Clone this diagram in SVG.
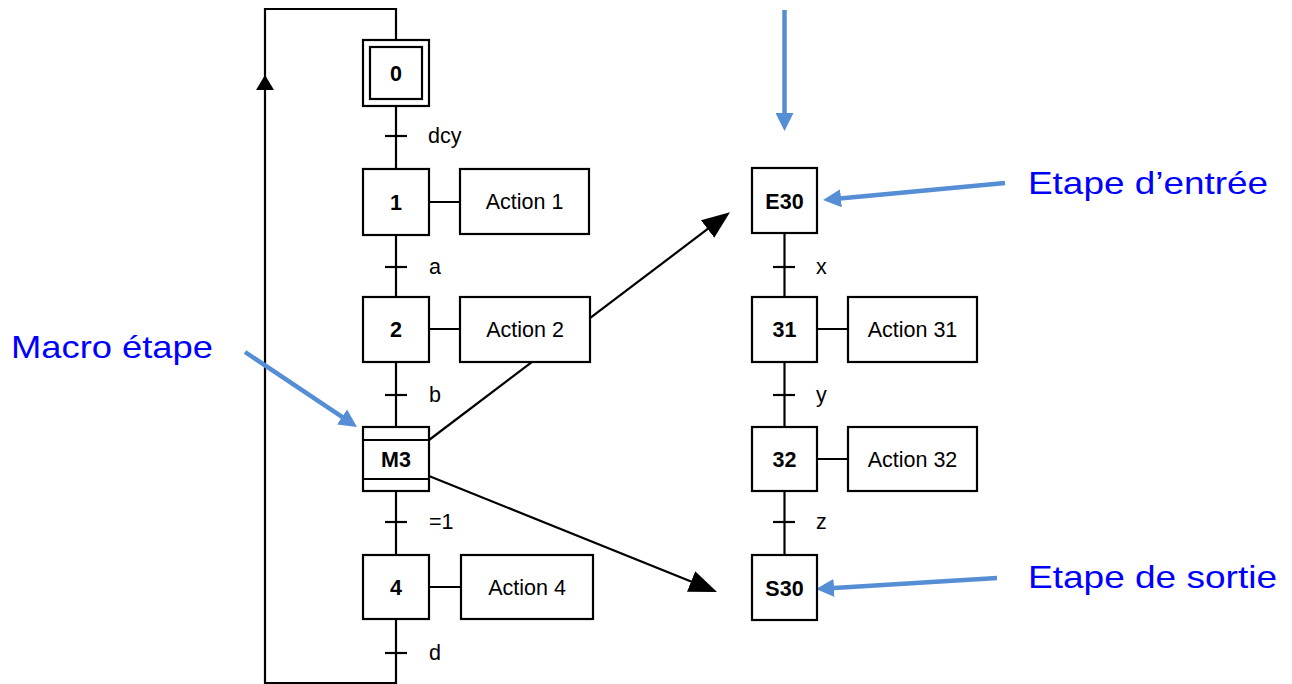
<svg xmlns="http://www.w3.org/2000/svg" width="1292" height="684" viewBox="0 0 1292 684">
<style>
.box{fill:#fff;stroke:#000;stroke-width:2.2}
.ln{fill:none;stroke:#000;stroke-width:2.2}
.tk{stroke:#000;stroke-width:2.2}
.blue{fill:none;stroke:#558ed5;stroke-width:4.5}
.step{font-family:"Liberation Sans",Arial,sans-serif;font-size:21.5px;font-weight:bold;text-anchor:middle;fill:#000}
.act{font-family:"Liberation Sans",Arial,sans-serif;font-size:21.5px;text-anchor:middle;fill:#000}
.tr{font-family:"Liberation Sans",Arial,sans-serif;font-size:21.5px;fill:#000}
.note{font-family:"Liberation Sans",Arial,sans-serif;font-size:32px;fill:#0000ff}
</style>
<defs>
<marker id="blk" markerUnits="userSpaceOnUse" markerWidth="28" markerHeight="22" refX="8" refY="11" orient="auto"><path d="M0,0 L28,11 L0,22 z" fill="#000"/></marker>
<marker id="loop" markerUnits="userSpaceOnUse" markerWidth="15" markerHeight="18" refX="8" refY="9" orient="auto"><path d="M0,0 L15,9 L0,18 z" fill="#000"/></marker>
<marker id="bl" markerUnits="userSpaceOnUse" markerWidth="18" markerHeight="18" refX="4" refY="9" orient="auto"><path d="M0,0 L18,9 L0,18 z" fill="#558ed5"/></marker>
</defs>
<g id="connectors">
<path class="ln" d="M396,106 V169 M396,235 V297 M396,362 V427 M396,491 V555"/>
<path class="ln" d="M396,619 V683 H265 V82" marker-end="url(#loop)"/>
<path class="ln" d="M265,82 V9 H396 V40"/>
<path class="ln" d="M429,202 H460 M429,329 H460 M429,587 H461"/>
<line class="tk" x1="385" y1="136" x2="407" y2="136"/>
<line class="tk" x1="385" y1="267" x2="407" y2="267"/>
<line class="tk" x1="385" y1="395" x2="407" y2="395"/>
<line class="tk" x1="385" y1="522" x2="407" y2="522"/>
<line class="tk" x1="385" y1="653" x2="407" y2="653"/>
<path class="ln" d="M784.5,233 V297 M784.5,362 V427 M784.5,491 V555"/>
<path class="ln" d="M817,329 H848 M817,459 H848"/>
<line class="tk" x1="773" y1="267" x2="795" y2="267"/>
<line class="tk" x1="773" y1="395" x2="795" y2="395"/>
<line class="tk" x1="773" y1="522" x2="795" y2="522"/>
<line class="ln" x1="429" y1="440" x2="714" y2="224.2" marker-end="url(#blk)"/>
<line class="ln" x1="429" y1="476" x2="698.5" y2="584.5" marker-end="url(#blk)"/>
<line class="blue" x1="784.5" y1="10" x2="784.5" y2="117" marker-end="url(#bl)"/>
<line class="blue" x1="1005" y1="183" x2="837" y2="198.7" marker-end="url(#bl)"/>
<line class="blue" x1="997" y1="578" x2="830" y2="588.2" marker-end="url(#bl)"/>
<line class="blue" x1="245" y1="352" x2="345.4" y2="419.2" marker-end="url(#bl)"/>
</g>
<g id="labels">
<text class="tr" x="428" y="143">dcy</text>
<text class="tr" x="429" y="274">a</text>
<text class="tr" x="429" y="402">b</text>
<text class="tr" x="429" y="529">=1</text>
<text class="tr" x="429" y="660">d</text>
<text class="tr" x="816" y="274">x</text>
<text class="tr" x="816" y="402">y</text>
<text class="tr" x="816" y="529">z</text>
</g>
<g id="step0"><rect class="box" x="363" y="40" width="66" height="66"/><rect class="box" x="370" y="47" width="52" height="52"/><text class="step" x="396" y="80.5">0</text></g>
<g id="step1"><rect class="box" x="363" y="169" width="66" height="66"/><text class="step" x="396" y="209.5">1</text></g>
<g id="action1"><rect class="box" x="460" y="169" width="129" height="65"/><text class="act" x="524.5" y="209">Action 1</text></g>
<g id="step2"><rect class="box" x="363" y="297" width="66" height="65"/><text class="step" x="396" y="337">2</text></g>
<g id="action2"><rect class="box" x="460" y="297" width="130" height="65"/><text class="act" x="525" y="337">Action 2</text></g>
<g id="stepM3"><rect class="box" x="363" y="427" width="66" height="64"/><path class="ln" d="M363,440 H429 M363,479 H429"/><text class="step" x="396" y="467">M3</text></g>
<g id="step4"><rect class="box" x="363" y="555" width="66" height="64"/><text class="step" x="396" y="595">4</text></g>
<g id="action4"><rect class="box" x="461" y="555" width="132" height="64"/><text class="act" x="527" y="595">Action 4</text></g>
<g id="stepE30"><rect class="box" x="752" y="168" width="65" height="65"/><text class="step" x="784.5" y="208.5">E30</text></g>
<g id="step31"><rect class="box" x="752" y="297" width="65" height="65"/><text class="step" x="784.5" y="337">31</text></g>
<g id="action31"><rect class="box" x="848" y="297" width="129" height="65"/><text class="act" x="912.5" y="337">Action 31</text></g>
<g id="step32"><rect class="box" x="752" y="427" width="65" height="64"/><text class="step" x="784.5" y="467">32</text></g>
<g id="action32"><rect class="box" x="848" y="427" width="129" height="64"/><text class="act" x="912.5" y="467">Action 32</text></g>
<g id="stepS30"><rect class="box" x="752" y="555" width="65" height="65"/><text class="step" x="784.5" y="595.5">S30</text></g>
<g id="notes">
<text class="note" x="1028" y="194" textLength="240" lengthAdjust="spacingAndGlyphs">Etape d’entrée</text>
<text class="note" x="11" y="358" textLength="202" lengthAdjust="spacingAndGlyphs">Macro étape</text>
<text class="note" x="1028" y="588" textLength="249" lengthAdjust="spacingAndGlyphs">Etape de sortie</text>
</g>
</svg>
